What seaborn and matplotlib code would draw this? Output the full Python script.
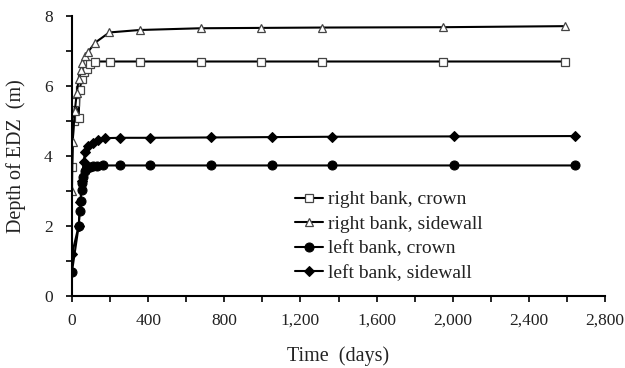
import matplotlib
matplotlib.use("Agg")
import matplotlib.pyplot as plt
import seaborn as sns
from matplotlib.ticker import MultipleLocator, FuncFormatter

# ---- data ----
rb_crown_days = [0, 8, 17, 35, 40, 52, 65, 78, 95, 122, 200, 356, 677, 992, 1311, 1949, 2588]
rb_crown_depth = [3.7, 5.0, 5.55, 5.1, 5.9, 6.2, 6.4, 6.5, 6.62, 6.7, 6.7, 6.7, 6.7, 6.7, 6.7, 6.7, 6.7]

rb_side_days = [0, 3, 15, 25, 35, 45, 55, 70, 85, 122, 196, 356, 677, 992, 1311, 1949, 2588]
rb_side_depth = [3.0, 4.4, 5.3, 5.8, 6.2, 6.45, 6.65, 6.85, 6.98, 7.24, 7.53, 7.6, 7.65, 7.66, 7.67, 7.68, 7.71]

lb_crown_days = [0, 35, 40, 46, 50, 55, 60, 68, 78, 92, 110, 130, 165, 252, 409, 731, 1050, 1366, 2005, 2642]
lb_crown_depth = [0.7, 2.0, 2.43, 2.72, 3.03, 3.22, 3.41, 3.58, 3.65, 3.69, 3.71, 3.72, 3.73, 3.73, 3.73, 3.73, 3.73, 3.73, 3.73, 3.73]

lb_side_days = [0, 35, 44, 52, 61, 69, 85, 108, 134, 172, 252, 409, 731, 1050, 1366, 2005, 2642]
lb_side_depth = [1.2, 2.0, 2.7, 3.3, 3.84, 4.12, 4.29, 4.38, 4.46, 4.51, 4.52, 4.52, 4.53, 4.54, 4.55, 4.56, 4.57]

labels = ["right bank, crown", "right bank, sidewall", "left bank, crown", "left bank, sidewall"]

sns.set_style("ticks")
plt.rcParams["font.family"] = ["Liberation Serif", "DejaVu Serif"]

fig = plt.figure(figsize=(6.25, 3.68), dpi=100)
ax = fig.add_axes([72 / 625, 1 - 296 / 368, (605 - 72) / 625, (296 - 16) / 368])

lw = 1.5
ms = 6
sns.lineplot(x=rb_crown_days, y=rb_crown_depth, ax=ax, color="black", lw=lw,
             marker="s", ms=ms, mfc="white", mec="#444444", mew=0.9, label=labels[0], estimator=None)
sns.lineplot(x=rb_side_days, y=rb_side_depth, ax=ax, color="black", lw=lw,
             marker="^", ms=ms, mfc="white", mec="#444444", mew=0.9, label=labels[1], estimator=None)
sns.lineplot(x=lb_crown_days, y=lb_crown_depth, ax=ax, color="black", lw=lw,
             marker="o", ms=ms + 0.5, mfc="black", mec="black", label=labels[2], estimator=None)
sns.lineplot(x=lb_side_days, y=lb_side_depth, ax=ax, color="black", lw=lw,
             marker="D", ms=ms - 0.5, mfc="black", mec="black", label=labels[3], estimator=None)

ax.set_xlim(0, 2800)
ax.set_ylim(0, 8)
ax.xaxis.set_major_locator(MultipleLocator(400))
ax.xaxis.set_minor_locator(MultipleLocator(200))
ax.yaxis.set_major_locator(MultipleLocator(2))
ax.yaxis.set_minor_locator(MultipleLocator(1))
ax.xaxis.set_major_formatter(FuncFormatter(lambda v, p: f"{int(v):,}"))

for s in ["top", "right"]:
    ax.spines[s].set_visible(False)
for s in ["left", "bottom"]:
    ax.spines[s].set_linewidth(1.5)
    ax.spines[s].set_color("black")

ax.tick_params(axis="both", which="both", direction="out", length=4, width=1.2, colors="black",
               labelsize=12.5, labelcolor="#222222")
ax.tick_params(axis="x", pad=8)
ax.tick_params(axis="y", pad=10)

ax.set_xlabel("Time  (days)", fontsize=14.5, labelpad=13, color="#222222")
ax.set_ylabel("Depth of EDZ  (m)", fontsize=14.5, labelpad=13, color="#222222")

leg = ax.legend(loc="upper left", bbox_to_anchor=(285 / 625, 1 - 181 / 368),
                bbox_transform=fig.transFigure, frameon=False, fontsize=14,
                handlelength=1.45, handletextpad=0.25, labelspacing=0.36, borderpad=0)
for t in leg.get_texts():
    t.set_color("#222222")

fig.savefig("out.png", dpi=100, facecolor="white")
